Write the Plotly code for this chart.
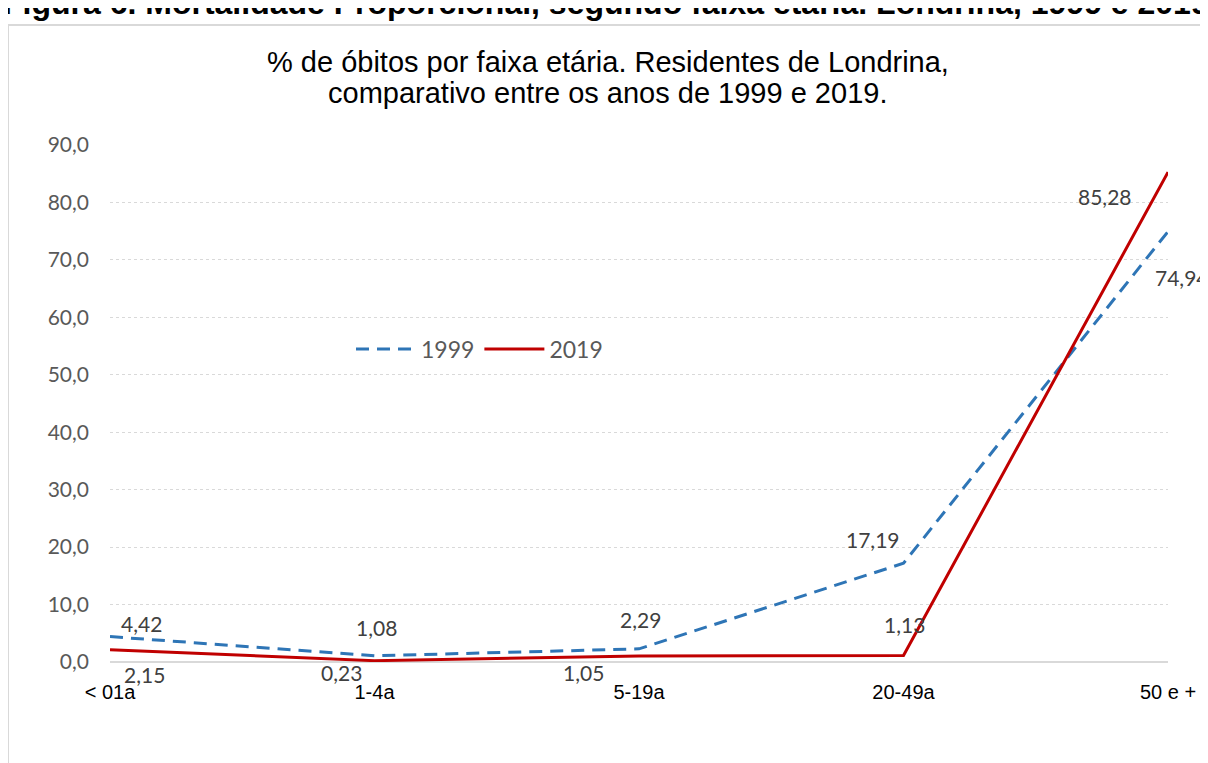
import plotly.graph_objects as go

categories = ["< 01a", "1-4a", "5-19a", "20-49a", "50 e +"]
values_1999 = [4.42, 1.08, 2.29, 17.19, 74.94]
values_2019 = [2.15, 0.23, 1.05, 1.13, 85.28]
series_names = ["1999", "2019"]
y_ticks = [0, 10, 20, 30, 40, 50, 60, 70, 80, 90]

W, H = 1208, 763
OFF = 8  # page body margin
# plot area in page pixels: left 110, right 1168, top 145, bottom 662
ML, MR, MT, MB = 110 - OFF, W - (1168 - OFF), 145 - OFF, H - (662 - OFF)
PW, PH = W - ML - MR, H - MT - MB


def px_x(p):  # page pixel -> paper
    return (p - OFF - ML) / PW


def px_y(p):
    return (H - MB - (p - OFF)) / PH


fig = go.Figure()
xs = list(range(len(categories)))
fig.add_trace(go.Scatter(x=xs, y=values_1999, mode="lines", name=series_names[0],
                         line=dict(color="#2E75B6", width=3, dash="13px,8px")))
fig.add_trace(go.Scatter(x=xs, y=values_2019, mode="lines", name=series_names[1],
                         line=dict(color="#C00000", width=3)))

fmt = lambda v: f"{v:.2f}".replace(".", ",")
off_1999 = [(31, 13), (2, 28), (1, 29), (-31, 24), (14, -46)]
off_2019 = [(34, -25), (-33, -12), (-56, -17), (1, 31), (-63, -24)]
lab_font = dict(family="Lato, Open Sans, sans-serif", size=21, color="#404040")
for vals, offs in ((values_1999, off_1999), (values_2019, off_2019)):
    for i, (v, (dx, dy)) in enumerate(zip(vals, offs)):
        fig.add_annotation(x=i, y=v, xref="x", yref="y", text=fmt(v), showarrow=False,
                           xshift=dx, yshift=dy, font=lab_font)

title_lines = ["% de óbitos por faixa etária. Residentes de Londrina,",
               "comparativo entre os anos de 1999 e 2019."]
for line, yc in zip(title_lines, (62, 93)):
    fig.add_annotation(xref="paper", yref="paper", x=px_x(607.5), y=px_y(yc), text=line,
                       showarrow=False, xanchor="center", yanchor="middle",
                       font=dict(family="Liberation Sans, Arial", size=29, color="#000000"))

# Clipped heading
fig.add_annotation(xref="paper", yref="paper", x=px_x(1), y=px_y(3),
                   text="<b>Figura 6. Mortalidade Proporcional, segundo faixa etária. Londrina, 1999 e 2019</b>",
                   showarrow=False, xanchor="left", yanchor="middle",
                   font=dict(family="Liberation Sans, Arial", size=32, color="#000000"))

# Chart frame border
fig.add_shape(type="line", xref="paper", yref="paper", x0=px_x(8), x1=px_x(8), y0=px_y(25), y1=px_y(800),
              line=dict(color="#D9D9D9", width=2))
fig.add_shape(type="line", xref="paper", yref="paper", x0=px_x(8), x1=px_x(1300), y0=px_y(25), y1=px_y(25),
              line=dict(color="#D9D9D9", width=2))

fig.update_layout(
    width=W, height=H,
    margin=dict(l=ML, r=MR, t=MT, b=MB),
    paper_bgcolor="white", plot_bgcolor="white",
    separators=", ",
    showlegend=True,
    legend=dict(orientation="h", x=px_x(351), y=px_y(349), xanchor="left", yanchor="middle",
                font=dict(family="Lato, Open Sans, sans-serif", size=23, color="#595959"),
                bgcolor="rgba(0,0,0,0)", itemwidth=60, tracegroupgap=0),
    xaxis=dict(tickvals=xs, ticktext=categories, range=[0, 4], showgrid=False, zeroline=False,
               showline=False, ticks="", ticklabelstandoff=16,
               tickfont=dict(family="Liberation Sans, Arial", size=20, color="#000000")),
    yaxis=dict(range=[0, 90], tickvals=y_ticks, tickformat=".1f", showgrid=True, gridcolor="#D9D9D9",
               griddash="dot", gridwidth=1, zeroline=True, zerolinecolor="#D9D9D9", zerolinewidth=2,
               ticks="", ticklabelstandoff=20,
               tickfont=dict(family="Lato, Open Sans, sans-serif", size=21, color="#595959")),
)

fig.write_html("out.html")
